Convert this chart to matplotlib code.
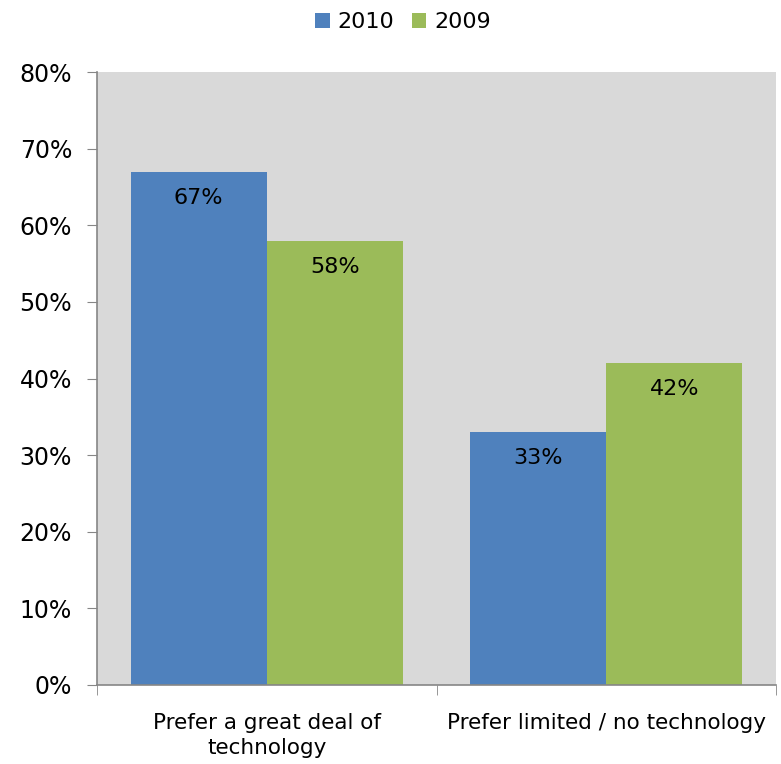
import matplotlib
matplotlib.use("Agg")
import matplotlib.pyplot as plt
import numpy as np

categories = ["Prefer a great deal of\ntechnology", "Prefer limited / no technology"]
series_names = ["2010", "2009"]
values_2010 = [67, 33]
values_2009 = [58, 42]
colors = ["#4F81BD", "#9BBB59"]

plt.rcParams['font.family'] = ['DejaVu Sans']

fig = plt.figure(figsize=(7.81, 7.64), dpi=100)
ax = fig.add_axes([97/781, 1-685/764, (776-97)/781, (685-72)/764])
ax.set_facecolor("#D9D9D9")

x = np.arange(len(categories))
w = 0.401
for i, (vals, name, c) in enumerate(zip([values_2010, values_2009], series_names, colors)):
    off = (i - 0.5) * w
    ax.bar(x + off, vals, width=w, color=c, label=name, zorder=2)
    for xi, v in zip(x + off, vals):
        ax.annotate(f"{v}%", (xi, v), xytext=(0, -26), textcoords="offset pixels",
                    ha="center", va="center", fontsize=16, color="black")

ax.set_xlim(-0.5, 1.5)
ax.set_ylim(0, 80)
ax.set_yticks(range(0, 81, 10))
ax.set_yticklabels([f"{t}%" for t in range(0, 81, 10)], fontsize=17)
ax.set_xticks(x)
ax.set_xticklabels(categories, fontsize=15.5, linespacing=1.32)
ax.tick_params(axis='x', length=0, pad=20)
ax.set_xticks([-0.5, 0.5, 1.5], minor=True)
ax.tick_params(axis='x', which='minor', length=7, color="#868686", direction='out')
ax.tick_params(axis='y', length=7, color="#868686", direction='out', pad=11)
for s in ["top", "right"]:
    ax.spines[s].set_visible(False)
for s in ["left", "bottom"]:
    ax.spines[s].set_color("#868686")
    ax.spines[s].set_linewidth(1.2)

fig.legend(loc="upper center", bbox_to_anchor=(403/781, 1.01), ncol=2, frameon=False,
           fontsize=16, handlelength=0.65, handleheight=0.65, handletextpad=0.35, columnspacing=0.8)

fig.savefig("out.png", dpi=100)
